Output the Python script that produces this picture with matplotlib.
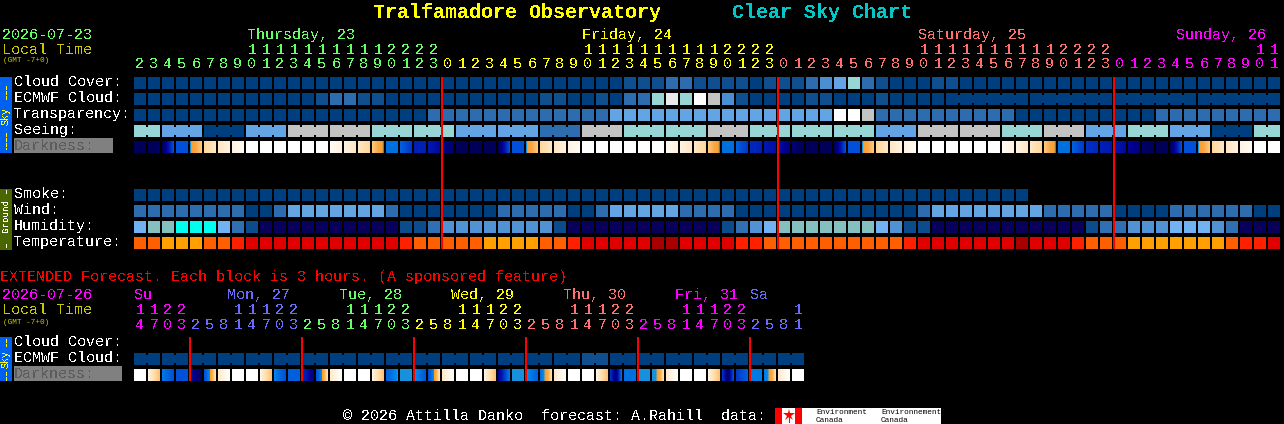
import numpy as np
import matplotlib
matplotlib.use("Agg")
import matplotlib.pyplot as plt
from matplotlib.colors import LinearSegmentedColormap
from matplotlib.patches import Rectangle

# palettes for the cell levels
SKY = ['#003F7F', '#0F4F8F', '#2D6CAE', '#4C8ED2', '#63A4E4', '#98D6D6', '#C3C3C3', '#EAEAEA', '#FFFFFF']
HUM = ['#08005A', '#0C4C8C', '#3070B2', '#5092D4', '#72B2F2', '#85C0C0', '#00FFEE']
TEMP = ['#A80000', '#E00000', '#FF2000', '#FF5F00', '#FFA000']

GREEN, YELLOW, SALMON, MAGENTA, BLUE = '#66FF66', '#FFFF00', '#FF7070', '#FF00FF', '#6A6AFF'

# main chart, one value per hour
hours = [2, 3, 4, 5, 6, 7, 8, 9, 10, 11, 12, 13, 14, 15, 16, 17, 18, 19, 20, 21, 22, 23,
         0, 1, 2, 3, 4, 5, 6, 7, 8, 9, 10, 11, 12, 13, 14, 15, 16, 17, 18, 19, 20, 21, 22, 23,
         0, 1, 2, 3, 4, 5, 6, 7, 8, 9, 10, 11, 12, 13, 14, 15, 16, 17, 18, 19, 20, 21, 22, 23,
         0, 1, 2, 3, 4, 5, 6, 7, 8, 9, 10, 11]
cloud = [0, 0, 0, 0, 0, 0, 0, 0, 0, 0, 0, 0, 0, 0, 0, 0, 0, 0, 0, 0, 0, 0,
         0, 0, 0, 0, 0, 0, 0, 0, 0, 0, 0, 0, 0, 1, 1, 1, 2, 2, 1, 1, 1, 1, 0, 1,
         1, 1, 2, 3, 4, 5, 2, 1, 0, 0, 0, 1, 1, 0, 0, 0, 0, 0, 0, 0, 0, 0, 0, 0,
         0, 0, 0, 0, 0, 0, 0, 0, 0, 0, 0, 0]
ecmwf = [0, 0, 0, 0, 0, 0, 0, 0, 0, 0, 0, 0, 0, 1, 2, 2, 1, 1, 0, 0, 0, 0,
         0, 0, 0, 0, 0, 0, 0, 1, 1, 0, 0, 1, 0, 2, 2, 5, 7, 5, 8, 6, 3, 1, 0, 0,
         0, 0, 1, 1, 0, 0, 0, 1, 0, 0, 0, 0, 0, 0, 0, 0, 0, 0, 0, 0, 0, 0, 0, 0,
         0, 0, 0, 0, 0, 0, 0, 0, 0, 0, 0, 0]
transparency = [0, 0, 0, 0, 0, 0, 0, 0, 0, 0, 0, 0, 0, 0, 0, 0, 0, 0, 0, 0, 0, 2,
                2, 2, 2, 2, 2, 2, 2, 2, 2, 2, 2, 2, 4, 4, 4, 4, 4, 4, 4, 4, 4, 4, 4, 4,
                4, 4, 4, 4, 8, 8, 6, 2, 2, 2, 2, 2, 2, 2, 2, 2, 2, 0, 0, 0, 0, 0, 0, 0,
                0, 0, 0, 2, 2, 2, 2, 2, 2, 2, 2, 2]
seeing = [5, 5, 4, 4, 4, 0, 0, 0, 4, 4, 4, 6, 6, 6, 6, 6, 6, 5, 5, 5, 5, 5,
          5, 4, 4, 4, 4, 4, 4, 2, 2, 2, 6, 6, 6, 5, 5, 5, 5, 5, 5, 6, 6, 6, 5, 5,
          5, 5, 5, 5, 5, 5, 5, 4, 4, 4, 6, 6, 6, 6, 6, 6, 5, 5, 5, 6, 6, 6, 4, 4,
          4, 5, 5, 5, 4, 4, 4, 0, 0, 0, 5, 5]
smoke = [0, 0, 0, 0, 0, 0, 0, 0, 0, 0, 0, 0, 0, 0, 0, 0, 0, 0, 0, 0, 0, 0,
         0, 0, 0, 0, 0, 0, 0, 0, 0, 0, 0, 0, 0, 0, 0, 0, 0, 0, 0, 0, 0, 0, 0, 0,
         0, 0, 0, 0, 0, 0, 0, 0, 0, 0, 0, 0, 0, 0, 0, 0, 0, 0]
wind = [2, 2, 2, 2, 2, 2, 2, 2, 0, 0, 2, 4, 4, 4, 4, 4, 4, 4, 2, 0, 0, 0,
        0, 0, 0, 0, 2, 2, 2, 2, 2, 0, 0, 2, 4, 4, 4, 4, 4, 2, 2, 2, 2, 0, 0, 0,
        0, 0, 0, 0, 0, 0, 0, 0, 0, 0, 2, 4, 4, 4, 4, 4, 4, 4, 4, 2, 2, 2, 2, 2,
        0, 0, 0, 0, 2, 2, 2, 2, 2, 2, 0, 0]
humidity = [4, 5, 5, 6, 6, 6, 4, 2, 1, 0, 0, 0, 0, 0, 0, 0, 0, 0, 0, 1, 1, 2,
            3, 3, 3, 3, 3, 3, 3, 3, 1, 0, 0, 0, 0, 0, 0, 0, 0, 0, 0, 0, 1, 2, 3, 4,
            5, 5, 5, 5, 5, 5, 5, 4, 3, 1, 1, 0, 0, 0, 0, 0, 0, 0, 0, 0, 0, 0, 1, 2,
            2, 3, 3, 3, 4, 4, 4, 3, 2, 0, 0, 0]
temperature = [3, 3, 4, 4, 4, 3, 3, 2, 1, 1, 1, 1, 1, 1, 1, 1, 1, 1, 1, 2, 3, 3,
               3, 3, 3, 4, 4, 4, 4, 3, 3, 2, 1, 1, 1, 1, 1, 0, 0, 1, 1, 1, 1, 2, 2, 3,
               3, 3, 3, 3, 3, 3, 3, 3, 3, 2, 1, 1, 1, 1, 1, 1, 1, 0, 1, 1, 1, 2, 3, 3,
               3, 4, 4, 4, 4, 4, 4, 4, 3, 2, 2, 1]
# brightness stops across each darkness block, 0 is night and 100 is full sun
darkness = [(0, 0), (0, 2), (0, 36), (36, 36), (50, 55, 68), (74, 84), (84, 92), (92, 97),
            (100, 100), (100, 100), (100, 100), (100, 100), (100, 100), (100, 100),
            (97, 92), (92, 84), (84, 74), (68, 55, 50), (44, 44), (40, 30), (24, 24), (22, 16),
            (12, 4), (0, 0), (0, 0), (0, 0), (0, 36), (36, 36), (50, 55, 68), (74, 84), (84, 92), (92, 97),
            (100, 100), (100, 100), (100, 100), (100, 100), (100, 100), (100, 100),
            (97, 92), (92, 84), (84, 74), (68, 55, 50), (44, 44), (40, 30), (26, 24), (22, 18),
            (18, 8), (6, 0), (0, 0), (0, 0), (0, 36), (36, 36), (50, 55, 68), (74, 84), (84, 92), (92, 97),
            (100, 100), (100, 100), (100, 100), (100, 100), (100, 100), (100, 100),
            (97, 92), (92, 84), (84, 74), (68, 55, 50), (44, 44), (40, 30), (28, 26), (24, 22),
            (22, 16), (14, 8), (4, 0), (0, 0), (0, 36), (36, 36), (50, 55, 68), (74, 84), (84, 92), (92, 97),
            (100, 100), (100, 100)]

# extended forecast, one value per 3 hours
ext_hours = [14, 17, 20, 23, 2, 5, 8, 11, 14, 17, 20, 23, 2, 5, 8, 11, 14, 17, 20, 23, 2, 5, 8, 11,
             14, 17, 20, 23, 2, 5, 8, 11, 14, 17, 20, 23, 2, 5, 8, 11, 14, 17, 20, 23, 2, 5, 8, 11]
ext_ecmwf = [0, 0, 0, 0, 0, 0, 0, 0, 0, 0, 0, 0, 0, 0, 0, 0, 0, 0, 0, 0, 0, 0, 0, 0,
             0, 0, 0, 0, 0, 0, 0, 0, 1, 1, 0, 0, 0, 0, 0, 0, 0, 0, 0, 0, 0, 0, 0, 0]
ext_darkness = [(100, 100), (92, 65), (46, 36), (36, 36), (16, 0), (36, 46, 55, 80), (86, 100), (100, 100),
                (100, 100), (92, 65), (48, 36), (40, 40), (28, 8), (36, 46, 55, 80), (86, 100), (100, 100),
                (100, 100), (92, 65), (40, 50), (50, 50), (50, 38), (36, 46, 55, 80), (86, 100), (100, 100),
                (100, 100), (92, 65), (12, 46), (50, 50), (50, 40), (44, 50, 55, 80), (86, 100), (100, 100),
                (100, 100), (92, 65), (28, 6, 44), (44, 44), (50, 50), (50, 50, 55, 80), (86, 100), (100, 100),
                (100, 100), (92, 65), (28, 4, 36), (30, 40), (46, 46), (46, 50, 55, 80), (86, 100), (100, 100)]

# colour runs of the hour labels, (first column, colour)
main_runs = [(0, GREEN), (22, YELLOW), (46, SALMON), (70, MAGENTA)]
ext_runs = [(0, MAGENTA), (4, BLUE), (12, GREEN), (20, YELLOW), (28, SALMON), (36, MAGENTA), (44, BLUE)]
main_days = [("Thursday, 23", 247, GREEN), ("Friday, 24", 582, YELLOW),
             ("Saturday, 25", 918, SALMON), ("Sunday, 26", 1176, MAGENTA)]
ext_days = [("Su", 134, MAGENTA), ("Mon, 27", 227, BLUE), ("Tue, 28", 339, GREEN), ("Wed, 29", 451, YELLOW),
            ("Thu, 30", 563, SALMON), ("Fri, 31", 675, MAGENTA), ("Sa", 750, BLUE)]

# groups of columns drawn as one joined block
seeing_groups = [(0, 1)] + [(c, c + 2) for c in range(2, 80, 3)] + [(80, 81)]
ecmwf_groups = [(58, 63), (64, 69), (70, 75), (76, 81)]
ext_groups = [(c, c + 1) for c in range(0, 48, 2)]

X0, STEP, CELL = 134, 14, 12

plt.rcParams['text.antialiased'] = False
plt.rcParams['text.hinting'] = 'force_autohint'
plt.rcParams['font.family'] = ['Liberation Mono', 'DejaVu Sans Mono']

dark_cmap = LinearSegmentedColormap.from_list('dark', [
    (0.00, '#000058'), (0.12, '#000090'), (0.22, '#0018B0'), (0.30, '#0038C8'), (0.36, '#0050D8'),
    (0.44, '#0070E0'), (0.50, '#0090F0'), (0.51, '#F8A030'), (0.65, '#FFC070'), (0.75, '#FFD9A0'),
    (0.85, '#FFE8C8'), (0.93, '#FFF4E4'), (1.00, '#FFFFFF')], N=512)

fig = plt.figure(figsize=(12.84, 4.24), dpi=100, facecolor='black')
ax = fig.add_axes([0, 0, 1, 1], facecolor='black')
ax.axis('off')


def txt(x, y, s, color='white', size=10.8, **kw):
    ax.text(x, y + 1, s, color=color, fontsize=size, va='center', ha=kw.pop('ha', 'left'), **kw)


def draw_row(values, palette, y, groups=()):
    cols = np.arange(len(values))
    colors = [palette[v] for v in values]
    ax.bar(X0 + cols * STEP, CELL, width=CELL, bottom=y, align='edge', color=colors,
           linewidth=0, antialiased=False)
    for a, b in groups:
        c = np.arange(a, b)
        ax.bar(X0 + c * STEP + CELL, CELL - 4, width=STEP - CELL, bottom=y + 2, align='edge',
               color=[palette[values[i]] for i in c], linewidth=0, antialiased=False)


def draw_darkness(stops, y):
    for i, s in enumerate(stops):
        v = np.interp(np.linspace(0, len(s) - 1, CELL), np.arange(len(s)), s)
        x = X0 + i * STEP
        ax.imshow(v[None, :], cmap=dark_cmap, vmin=0, vmax=100, extent=(x, x + CELL, y + CELL, y),
                  aspect='auto', interpolation='nearest')


def draw_hours(hrs, runs, y_tens, y_ones):
    for i, h in enumerate(hrs):
        color = [c for start, c in runs if start <= i][-1]
        x = X0 + i * STEP + CELL / 2
        txt(x, y_ones, str(h % 10), color, ha='center')
        if h >= 10:
            txt(x, y_tens, str(h // 10), color, ha='center')


def side_bar(y0, y1, color, label, label_color, label_y, dash_spans, size):
    ax.add_patch(Rectangle((0, y0), 12, y1 - y0, facecolor=color, linewidth=0, antialiased=False))
    txt(6, label_y, label, label_color, size=size, rotation=90, ha='center')
    for a, b in dash_spans:
        ax.plot([6, 6], [a, b], color=label_color, lw=0.72, ls=(0, (4, 2)), antialiased=False)


# header
txt(373, 11, "Tralfamadore Observatory", YELLOW, size=14.4, fontweight='bold')
txt(732, 11, "Clear Sky Chart", '#00C8C8', size=14.4, fontweight='bold')
txt(2, 34, "2026-07-23", GREEN)
txt(2, 49, "Local Time", '#C8C800')
txt(3, 60, "(GMT -7+0)", '#C8C800', size=5.6, antialiased=True)
for name, x, color in main_days:
    txt(x, 34, name, color)
draw_hours(hours, main_runs, 49, 63)

# sky block
side_bar(77, 153, '#0060F0', "Sky", YELLOW, 115, [(86, 100), (133, 149)], 7.2)
for label, y in [("Cloud Cover:", 81), ("ECMWF Cloud:", 97), ("Transparency:", 113), ("Seeing:", 129)]:
    txt(14, y, label)
ax.add_patch(Rectangle((14, 138), 99, 15, facecolor='#808080', linewidth=0, antialiased=False))
txt(14, 145, "Darkness:", '#5C5C5C')
draw_row(cloud, SKY, 77)
draw_row(ecmwf, SKY, 93, ecmwf_groups)
draw_row(transparency, SKY, 109)
draw_row(seeing, SKY, 125, seeing_groups)
draw_darkness(darkness, 141)

# ground block
side_bar(189, 250, '#4A6600', "Ground", 'white', 215, [(190, 194), (244, 248)], 6.6)
for label, y in [("Smoke:", 193), ("Wind:", 209), ("Humidity:", 225), ("Temperature:", 241)]:
    txt(14, y, label)
draw_row(smoke, SKY, 189)
draw_row(wind, SKY, 205)
draw_row(humidity, HUM, 221)
draw_row(temperature, TEMP, 237)

ax.vlines([442, 778, 1114], 77, 249, color='#FF0000', lw=1.44, antialiased=False, zorder=5)

# extended forecast
txt(0, 276, "EXTENDED Forecast. Each block is 3 hours. (A sponsored feature)", '#FF0000')
txt(2, 294, "2026-07-26", MAGENTA)
txt(2, 309, "Local Time", '#C8C800')
txt(3, 321, "(GMT -7+0)", '#C8C800', size=5.6, antialiased=True)
for name, x, color in ext_days:
    txt(x, 294, name, color)
draw_hours(ext_hours, ext_runs, 309, 324)

side_bar(337, 381, '#0060F0', "Sky", YELLOW, 358, [(339, 346), (372, 380)], 7.2)
for label, y in [("Cloud Cover:", 341), ("ECMWF Cloud:", 357)]:
    txt(14, y, label)
ax.add_patch(Rectangle((14, 366), 108, 15, facecolor='#808080', linewidth=0, antialiased=False))
txt(14, 373, "Darkness:", '#5C5C5C')
draw_row(ext_ecmwf, SKY, 353, ext_groups)
draw_darkness(ext_darkness, 369)
ax.vlines([190, 302, 414, 526, 638, 750], 337, 381, color='#FF0000', lw=1.44, antialiased=False, zorder=5)

# footer
txt(343, 415, "\u00a9 2026 Attilla Danko  forecast: A.Rahill  data:")
ax.add_patch(Rectangle((775, 408), 166, 16, facecolor='white', linewidth=0, antialiased=False))
ax.add_patch(Rectangle((775, 408), 7, 16, facecolor='#FF0000', linewidth=0, antialiased=False))
ax.add_patch(Rectangle((795, 408), 7, 16, facecolor='#FF0000', linewidth=0, antialiased=False))
ax.plot([788.5], [415], marker='*', ms=9, color='#FF0000', mew=0)
ax.plot([788.5, 788.5], [416, 422], color='#FF0000', lw=0.8)
for x, word in [(816, "Environment"), (881, "Environnement")]:
    txt(x, 411, word, 'black', size=5.6, antialiased=True)
    txt(x, 419, "Canada", 'black', size=5.6, antialiased=True)

ax.set_xlim(0, 1284)
ax.set_ylim(424, 0)
fig.savefig('out.png', dpi=100, facecolor='black')
